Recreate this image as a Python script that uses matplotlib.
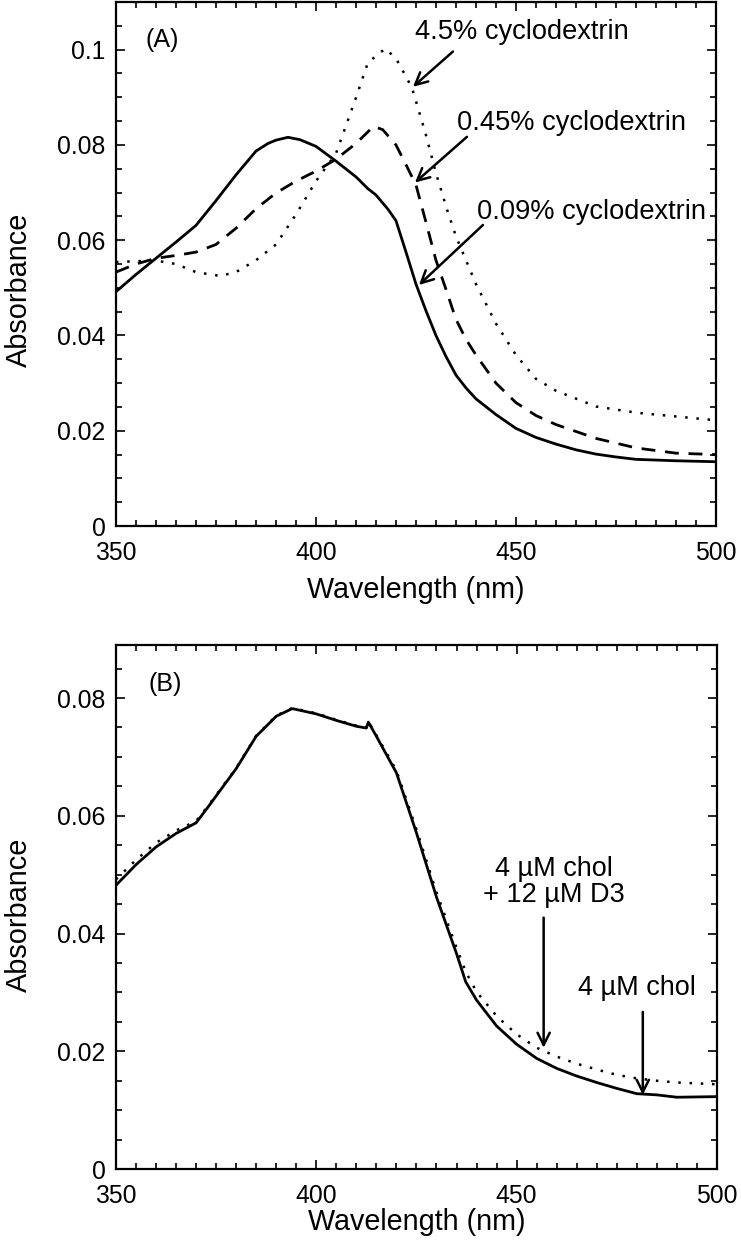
import numpy as np
import matplotlib
matplotlib.use("Agg")
import matplotlib.pyplot as plt
from matplotlib.ticker import MultipleLocator, FuncFormatter

plt.rcParams['font.family'] = ['Liberation Sans', 'DejaVu Sans']

###############################################################################
# Panel A : cyclodextrin concentration
wl_a = [350, 355, 360, 365, 370, 375, 380, 385, 388, 390, 393, 396, 400, 405, 410,
        413, 415, 418, 420, 422.4, 425, 427.5, 430, 432.5, 435, 437.5, 440, 445,
        450, 455, 460, 465, 470, 475, 480, 490, 500]
a_009 = [0.0492, 0.0528, 0.0562, 0.0596, 0.0631, 0.0683, 0.0737, 0.0787, 0.0803,
         0.0810, 0.0816, 0.0811, 0.0797, 0.0766, 0.0733, 0.0708, 0.0695, 0.0665,
         0.0641, 0.0578, 0.0508, 0.0452, 0.0400, 0.0356, 0.0317, 0.0290, 0.0267,
         0.0234, 0.0205, 0.0186, 0.0172, 0.0160, 0.0151, 0.0145, 0.0140, 0.0137,
         0.0135]

wl_b45 = [350, 355, 360, 365, 370, 375, 380, 385, 390, 395, 400, 405, 410, 414.4,
          416.7, 420, 422.6, 425, 427.4, 430, 432.7, 435, 437.5, 440, 445, 450, 455,
          460, 470, 480, 490, 500]
a_045 = [0.0533, 0.0550, 0.0562, 0.0568, 0.0575, 0.0591, 0.0625, 0.0666, 0.0699,
         0.0724, 0.0745, 0.0770, 0.0803, 0.0839, 0.0832, 0.0800, 0.0757, 0.0716,
         0.0641, 0.0558, 0.0492, 0.0434, 0.0392, 0.0359, 0.0300, 0.0259, 0.0232,
         0.0213, 0.0184, 0.0164, 0.0153, 0.0150]

wl_c45 = [350, 355, 360, 365, 370, 376, 380, 385, 390, 395, 400, 405, 410, 413,
          417.3, 420, 424, 427.4, 430, 432.7, 435, 440, 445, 450, 455, 460, 470,
          480, 490, 500]
a_45 = [0.0554, 0.0556, 0.0557, 0.0550, 0.0533, 0.0525, 0.0533, 0.0558, 0.0591,
        0.0654, 0.0724, 0.0782, 0.0899, 0.0973, 0.1002, 0.0982, 0.0920, 0.0824,
        0.0741, 0.0666, 0.0608, 0.0508, 0.0425, 0.0359, 0.0309, 0.0284, 0.0251,
        0.0238, 0.0230, 0.0222]

# Panel B : cholesterol / D3
wl_B = [350, 355, 360, 365, 370, 373, 380, 385, 390, 394, 400, 405, 410, 412.5,
        413, 415, 420, 425, 430, 435, 437.3, 440, 445, 450, 455, 460, 465, 470,
        475, 480, 485, 490, 500]
chol = [0.0482, 0.0517, 0.0547, 0.0570, 0.0588, 0.0615, 0.0680, 0.0735, 0.0769,
        0.0782, 0.0773, 0.0762, 0.0752, 0.0749, 0.0759, 0.0735, 0.0673, 0.0571,
        0.0462, 0.0366, 0.0318, 0.0287, 0.0243, 0.0212, 0.0188, 0.0171, 0.0158,
        0.0147, 0.0137, 0.0128, 0.0126, 0.0122, 0.0123]
chol_d3 = [0.0492, 0.0525, 0.0554, 0.0575, 0.0591, 0.0617, 0.0681, 0.0736, 0.0770,
           0.0783, 0.0774, 0.0763, 0.0753, 0.0750, 0.0760, 0.0737, 0.0677, 0.0577,
           0.0470, 0.0376, 0.0335, 0.0301, 0.0260, 0.0229, 0.0206, 0.0191, 0.0179,
           0.0169, 0.0160, 0.0154, 0.0150, 0.0147, 0.0144]

###############################################################################

fig = plt.figure(figsize=(7.41, 12.51), dpi=100)
axA = fig.add_axes([0.1565, 0.5795, 0.8097, 0.4189])
axB = fig.add_axes([0.1565, 0.0655, 0.8110, 0.4189])

fmt = FuncFormatter(lambda v, p: '0' if abs(v) < 1e-9 else ('%g' % round(v, 3)))

def style(ax, ymax, xl_y, yl_y):
    ax.set_xlim(350, 500)
    ax.set_ylim(0, ymax)
    ax.xaxis.set_major_locator(MultipleLocator(50))
    ax.xaxis.set_minor_locator(MultipleLocator(5))
    ax.yaxis.set_major_locator(MultipleLocator(0.02))
    ax.yaxis.set_minor_locator(MultipleLocator(0.005))
    ax.yaxis.set_major_formatter(fmt)
    ax.tick_params(which='both', direction='in', top=True, right=True, width=1.2, labelsize=17.8)
    ax.tick_params(which='major', length=6.5)
    ax.tick_params(which='minor', length=4.3)
    ax.tick_params(axis='y', pad=7.5)
    ax.tick_params(axis='x', pad=11)
    for s in ax.spines.values():
        s.set_linewidth(1.6)
    ax.set_xlabel('Wavelength (nm)', fontsize=20.7)
    ax.set_ylabel('Absorbance', fontsize=20.8)
    ax.xaxis.set_label_coords(0.5, xl_y)
    ax.yaxis.set_label_coords(-0.138, yl_y)

# Panel A
axA.plot(wl_a, a_009, '-', color='black', lw=2.0)
axA.plot(wl_b45, a_045, color='black', lw=2.0, linestyle=(0, (5, 3.5)))
axA.plot(wl_c45, a_45, color='black', lw=1.8, linestyle=(0, (1, 3.5)))
style(axA, 0.110, -0.095, 0.45)
axA.text(361.5, 0.1021, '(A)', fontsize=18, ha='center', va='center')

arrow = dict(arrowstyle='->', color='black', lw=1.8, mutation_scale=22, shrinkA=0, shrinkB=0)
axA.text(424.75, 0.1036, '4.5% cyclodextrin', fontsize=19.6, ha='left', va='center')
axA.annotate('', xy=(424.25, 0.0922), xytext=(434.25, 0.0996), arrowprops=arrow)
axA.text(435.25, 0.0847, '0.45% cyclodextrin', fontsize=19.6, ha='left', va='center')
axA.annotate('', xy=(424.75, 0.0721), xytext=(437.75, 0.0817), arrowprops=arrow)
axA.text(440.25, 0.0660, '0.09% cyclodextrin', fontsize=19.6, ha='left', va='center')
axA.annotate('', xy=(425.75, 0.0506), xytext=(441.75, 0.0632), arrowprops=arrow)

# Panel B
axB.plot(wl_B, chol, '-', color='black', lw=2.0)
axB.plot(wl_B, chol_d3, color='black', lw=1.8, linestyle=(0, (1, 3.5)))
style(axB, 0.089, -0.074, 0.485)
axB.text(362.25, 0.0824, '(B)', fontsize=18, ha='center', va='center')

axB.text(459.25, 0.0488, '4 µM chol\n+ 12 µM D3', fontsize=19.5, ha='center', va='center',
         linespacing=1.0)
axB.annotate('', xy=(456.75, 0.0206), xytext=(456.75, 0.0427), arrowprops=arrow)
axB.text(480.0, 0.0308, '4 µM chol', fontsize=19.5, ha='center', va='center')
axB.annotate('', xy=(481.5, 0.0126), xytext=(481.5, 0.0267), arrowprops=arrow)

fig.savefig('out.png', dpi=100)
